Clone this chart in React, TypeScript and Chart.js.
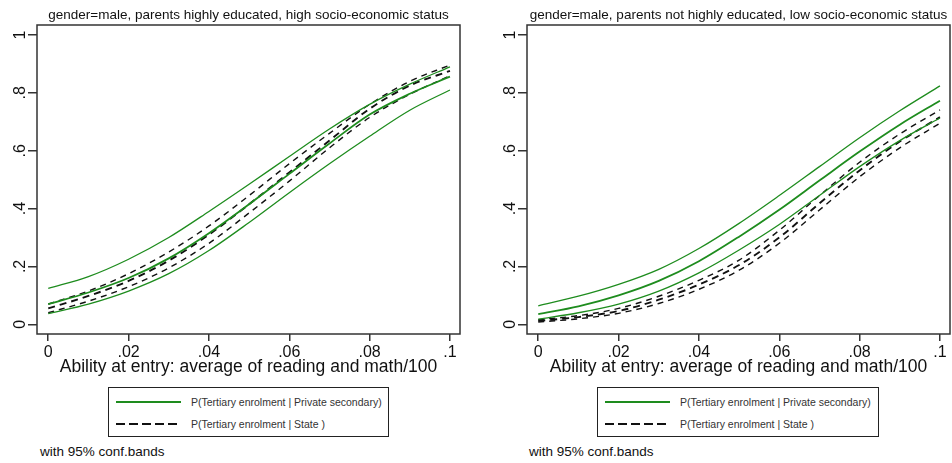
import React, { useEffect, useRef } from "react";
import { Chart, registerables } from "chart.js";

Chart.register(...registerables);

// ---------- data ----------
const xValues = [0, 0.01, 0.02, 0.03, 0.04, 0.05, 0.06, 0.07, 0.08, 0.09, 0.1];
const xTicks = [0, 0.02, 0.04, 0.06, 0.08, 0.1];
const xTickLabels = ["0", ".02", ".04", ".06", ".08", ".1"];
const yTicks = [0, 0.2, 0.4, 0.6, 0.8, 1];
const yTickLabels = ["0", ".2", ".4", ".6", ".8", "1"];

const xAxisTitle = "Ability at entry: average of reading and math/100";
const legendPrivate = "P(Tertiary enrolment | Private secondary)";
const legendState = "P(Tertiary enrolment | State )";
const noteText = "with 95% conf.bands";

const leftTitle = "gender=male, parents highly educated, high socio-economic status";
const rightTitle = "gender=male, parents not highly educated, low socio-economic status";

// left panel: high SES
const leftPrivateUpper = [0.124, 0.165, 0.225, 0.3, 0.39, 0.484, 0.58, 0.675, 0.76, 0.83, 0.89];
const leftPrivateEst = [0.07, 0.11, 0.16, 0.228, 0.315, 0.415, 0.52, 0.625, 0.725, 0.797, 0.856];
const leftPrivateLower = [0.037, 0.07, 0.115, 0.175, 0.255, 0.352, 0.455, 0.555, 0.65, 0.74, 0.81];
const leftStateUpper = [0.07, 0.115, 0.175, 0.25, 0.34, 0.445, 0.555, 0.66, 0.76, 0.84, 0.896];
const leftStateEst = [0.055, 0.098, 0.15, 0.22, 0.31, 0.415, 0.525, 0.635, 0.745, 0.825, 0.876];
const leftStateLower = [0.04, 0.08, 0.13, 0.195, 0.28, 0.385, 0.495, 0.61, 0.715, 0.795, 0.859];

// right panel: low SES
const rightPrivateUpper = [0.064, 0.097, 0.138, 0.19, 0.262, 0.349, 0.445, 0.545, 0.645, 0.738, 0.824];
const rightPrivateEst = [0.035, 0.062, 0.1, 0.15, 0.218, 0.303, 0.396, 0.497, 0.597, 0.69, 0.773];
const rightPrivateLower = [0.018, 0.04, 0.07, 0.115, 0.178, 0.257, 0.345, 0.445, 0.545, 0.635, 0.713];
const rightStateUpper = [0.016, 0.03, 0.055, 0.097, 0.152, 0.222, 0.325, 0.445, 0.56, 0.658, 0.741];
const rightStateEst = [0.012, 0.025, 0.046, 0.085, 0.137, 0.205, 0.3, 0.418, 0.532, 0.632, 0.716];
const rightStateLower = [0.008, 0.019, 0.038, 0.072, 0.121, 0.187, 0.28, 0.395, 0.51, 0.61, 0.695];

// ---------- styles ----------
const FONT = "'Liberation Sans', Arial, Helvetica, sans-serif";
const GREEN = "#1e8c1e";
const BLACK = "#111111";
const CANVAS_H = 380;
const AREA_TOP = 25;
const AREA_BOTTOM = 334;
const Y_AXIS_W = 37;

function makeDataset(label: string, ys: number[], color: string, width: number, dash: number[]) {
  return {
    label,
    data: xValues.map((x, i) => ({ x, y: ys[i] })),
    borderColor: color,
    borderWidth: width,
    borderDash: dash,
    pointRadius: 0,
    fill: false,
    cubicInterpolationMode: "monotone" as const,
  };
}

const panelPlugin = {
  id: "panelDecor",
  afterDraw(chart: any, _args: any, opts: any) {
    const { ctx, chartArea: a, scales } = chart;
    ctx.save();
    ctx.strokeStyle = "#333";
    ctx.lineWidth = 1.5;
    ctx.strokeRect(a.left, a.top, a.right - a.left, a.bottom - a.top);
    ctx.fillStyle = "#111";
    ctx.font = `13.5px ${FONT}`;
    ctx.textAlign = "center";
    ctx.textBaseline = "alphabetic";
    ctx.fillText(opts.title, (a.left + a.right) / 2, 18.5);
    ctx.font = `16px ${FONT}`;
    yTicks.forEach((v, i) => {
      const y = scales.y.getPixelForValue(v);
      ctx.save();
      ctx.translate(a.left - 12, y);
      ctx.rotate(-Math.PI / 2);
      ctx.fillText(yTickLabels[i], 0, 0);
      ctx.restore();
    });
    ctx.restore();
  },
};

type PanelProps = {
  left: number;
  width: number;
  padRight: number;
  title: string;
  pUp: number[];
  pEst: number[];
  pLo: number[];
  sUp: number[];
  sEst: number[];
  sLo: number[];
};

function Panel(props: PanelProps) {
  const ref = useRef<HTMLCanvasElement | null>(null);
  useEffect(() => {
    if (!ref.current) return;
    const chart = new Chart(ref.current, {
      type: "line",
      data: {
        datasets: [
          makeDataset("Private upper", props.pUp, GREEN, 1.3, []),
          makeDataset("Private", props.pEst, GREEN, 1.8, []),
          makeDataset("Private lower", props.pLo, GREEN, 1.3, []),
          makeDataset("State upper", props.sUp, BLACK, 1.4, [6, 5]),
          makeDataset("State", props.sEst, BLACK, 1.9, [7, 5]),
          makeDataset("State lower", props.sLo, BLACK, 1.4, [6, 5]),
        ] as any,
      },
      options: {
        animation: false,
        responsive: false,
        maintainAspectRatio: false,
        layout: { padding: { top: AREA_TOP, right: props.padRight, left: 0, bottom: 0 } },
        plugins: {
          legend: { display: false },
          tooltip: { enabled: false },
          title: { display: false },
          panelDecor: { title: props.title },
        } as any,
        scales: {
          x: {
            type: "linear",
            min: -0.0028,
            max: 0.1025,
            afterBuildTicks: (scale: any) => {
              scale.ticks = xTicks.map((v) => ({ value: v }));
            },
            afterFit: (scale: any) => {
              scale.height = CANVAS_H - AREA_BOTTOM;
            },
            ticks: {
              color: "#111",
              font: { family: FONT, size: 16 },
              padding: 2,
              maxRotation: 0,
              autoSkip: false,
              callback: (v: any) => {
                const i = xTicks.findIndex((t) => Math.abs(t - Number(v)) < 1e-9);
                return i >= 0 ? xTickLabels[i] : "";
              },
            },
            grid: {
              drawOnChartArea: false,
              drawTicks: true,
              tickLength: 7,
              color: "#333",
              lineWidth: 1.5,
            },
            border: { display: false },
            title: {
              display: true,
              text: xAxisTitle,
              color: "#111",
              font: { family: FONT, size: 17.5 },
              padding: { top: 0, bottom: 2 },
            },
          },
          y: {
            type: "linear",
            min: -0.0335,
            max: 1.0346,
            afterBuildTicks: (scale: any) => {
              scale.ticks = yTicks.map((v) => ({ value: v }));
            },
            afterFit: (scale: any) => {
              scale.width = Y_AXIS_W;
            },
            ticks: { display: false },
            grid: {
              drawOnChartArea: false,
              drawTicks: true,
              tickLength: 9,
              color: "#333",
              lineWidth: 1.5,
            },
            border: { display: false },
          },
        },
      } as any,
      plugins: [panelPlugin],
    });
    return () => chart.destroy();
  }, []);
  return (
    <canvas
      ref={ref}
      width={props.width}
      height={CANVAS_H}
      style={{ position: "absolute", left: props.left, top: 0, width: props.width, height: CANVAS_H }}
    />
  );
}

function LegendBox({ left, width }: { left: number; width: number }) {
  const textStyle: React.CSSProperties = {
    position: "absolute",
    left: 82,
    fontFamily: FONT,
    fontSize: "10.5px",
    color: "#333",
    lineHeight: "14px",
    whiteSpace: "nowrap",
  };
  return (
    <div
      style={{
        position: "absolute",
        left,
        top: 387,
        width,
        height: 50,
        border: "1.5px solid #222",
        boxSizing: "border-box",
        background: "#fff",
      }}
    >
      <svg width={80} height={50} style={{ position: "absolute", left: 0, top: 0 }}>
        <line x1={7} x2={72} y1={14} y2={14} stroke={GREEN} strokeWidth={2} />
        <line x1={7} x2={72} y1={36} y2={36} stroke={BLACK} strokeWidth={2} strokeDasharray="9 4" />
      </svg>
      <div style={{ ...textStyle, top: 7 }}>{legendPrivate}</div>
      <div style={{ ...textStyle, top: 29 }}>{legendState}</div>
    </div>
  );
}

function Note({ left }: { left: number }) {
  return (
    <div
      style={{
        position: "absolute",
        left,
        top: 444,
        fontFamily: FONT,
        fontSize: "13.5px",
        lineHeight: "16px",
        color: "#111",
        whiteSpace: "nowrap",
      }}
    >
      {noteText}
    </div>
  );
}

export default function App() {
  return (
    <div style={{ position: "absolute", left: 0, top: 0, width: 952, height: 463, background: "#fff", overflow: "hidden" }}>
      <Panel
        left={0}
        width={476}
        padRight={16}
        title={leftTitle}
        pUp={leftPrivateUpper}
        pEst={leftPrivateEst}
        pLo={leftPrivateLower}
        sUp={leftStateUpper}
        sEst={leftStateEst}
        sLo={leftStateLower}
      />
      <Panel
        left={490}
        width={462}
        padRight={2}
        title={rightTitle}
        pUp={rightPrivateUpper}
        pEst={rightPrivateEst}
        pLo={rightPrivateLower}
        sUp={rightStateUpper}
        sEst={rightStateEst}
        sLo={rightStateLower}
      />
      <LegendBox left={108} width={281} />
      <LegendBox left={597} width={282} />
      <Note left={40} />
      <Note left={529} />
    </div>
  );
}
